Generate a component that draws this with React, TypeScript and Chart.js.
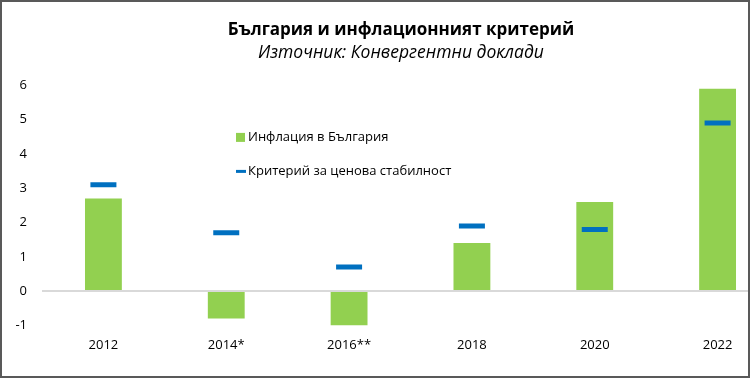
import React, { useEffect, useRef } from 'react';
import { Chart, registerables } from 'chart.js';

Chart.register(...registerables);

const categories = ['2012', '2014*', '2016**', '2018', '2020', '2022'];
const inflation = [2.7, -0.8, -1.0, 1.4, 2.6, 5.9];
const criterion = [3.1, 1.7, 0.7, 1.9, 1.8, 4.9];
const yMin = -1;
const yMax = 6;
const titleText = 'България и инфлационният критерий';
const subtitleText = 'Източник: Конвергентни доклади';
const seriesLabels = ['Инфлация в България', 'Критерий за ценова стабилност'];

const FONT = "'Open Sans', sans-serif";
const GREEN = '#92D050';
const BLUE = '#0070C0';

const innerLegend = {
  id: 'innerLegend',
  afterDraw(chart: any) {
    const { ctx, chartArea } = chart;
    const x = chartArea.left + 194;
    const ys = [chartArea.top + 52, chartArea.top + 86];
    ctx.save();
    ctx.font = `13px ${FONT}`;
    ctx.textBaseline = 'middle';
    ctx.textAlign = 'left';
    chart.data.datasets.forEach((ds: any, i: number) => {
      const y = ys[i];
      if (ds.type === 'bar') {
        ctx.fillStyle = ds.backgroundColor;
        ctx.fillRect(x, y - 4.5, 9, 9);
      } else {
        ctx.strokeStyle = ds.borderColor;
        ctx.lineWidth = 3;
        ctx.beginPath();
        ctx.moveTo(x, y);
        ctx.lineTo(x + 10, y);
        ctx.stroke();
      }
      ctx.fillStyle = '#000';
      ctx.fillText(ds.label, x + 12, y);
    });
    ctx.restore();
  },
};

export default function App() {
  const canvasRef = useRef<HTMLCanvasElement | null>(null);

  useEffect(() => {
    if (!canvasRef.current) return;
    const chart = new Chart(canvasRef.current, {
      type: 'bar',
      data: {
        labels: categories,
        datasets: [
          {
            type: 'bar',
            label: seriesLabels[0],
            data: inflation,
            backgroundColor: GREEN,
            borderWidth: 0,
            barPercentage: 0.3,
            categoryPercentage: 1,
            order: 1,
          } as any,
          {
            type: 'line',
            label: seriesLabels[1],
            data: criterion,
            showLine: false,
            pointStyle: 'line',
            pointRadius: 13,
            pointHoverRadius: 13,
            borderColor: BLUE,
            backgroundColor: BLUE,
            pointBorderWidth: 5,
            borderWidth: 5,
            order: 0,
          } as any,
        ],
      },
      options: {
        animation: false,
        responsive: true,
        maintainAspectRatio: false,
        layout: { padding: { top: 0, left: 0, right: 0, bottom: 13 } },
        plugins: {
          legend: { display: false },
          tooltip: { enabled: false },
          title: {
            display: true,
            text: titleText,
            color: '#000',
            font: { family: FONT, size: 17, weight: 'bold' },
            padding: { top: 20, bottom: 2 },
          },
          subtitle: {
            display: true,
            text: subtitleText,
            color: '#000',
            font: { family: FONT, size: 17.5, style: 'italic' },
            padding: { top: 0, bottom: 22 },
          },
        },
        scales: {
          x: {
            type: 'category',
            offset: true,
            grid: { display: false, drawTicks: false },
            border: { display: false },
            ticks: {
              color: '#000',
              font: { family: FONT, size: 13 },
              padding: 12,
              maxRotation: 0,
              autoSkip: false,
            },
          },
          y: {
            type: 'linear',
            min: yMin,
            max: yMax,
            grid: {
              drawTicks: false,
              lineWidth: 2,
              color: (c: any) => (c.tick && c.tick.value === 0 ? '#D9D9D9' : 'rgba(0,0,0,0)'),
            },
            border: { display: false },
            ticks: {
              stepSize: 1,
              color: '#000',
              font: { family: FONT, size: 13 },
              padding: 15,
            },
            afterFit: (s: any) => {
              s.width = 42;
            },
          },
          yRight: {
            type: 'linear',
            position: 'right',
            display: true,
            grid: { display: false, drawTicks: false },
            border: { display: false },
            ticks: { display: false },
            afterFit: (s: any) => {
              s.width = 23;
            },
          },
        },
      } as any,
      plugins: [innerLegend],
    });
    return () => chart.destroy();
  }, []);

  return (
    <div
      style={{
        position: 'fixed',
        left: 0,
        top: 0,
        width: 750,
        height: 378,
        overflow: 'hidden',
        background: '#fff',
      }}
    >
      <div style={{ position: 'absolute', left: 0, top: 0, width: 802, height: 378 }}>
        <canvas ref={canvasRef} />
      </div>
      <div
        style={{
          position: 'absolute',
          inset: 0,
          border: '2px solid #595959',
          boxSizing: 'border-box',
          pointerEvents: 'none',
        }}
      />
    </div>
  );
}
